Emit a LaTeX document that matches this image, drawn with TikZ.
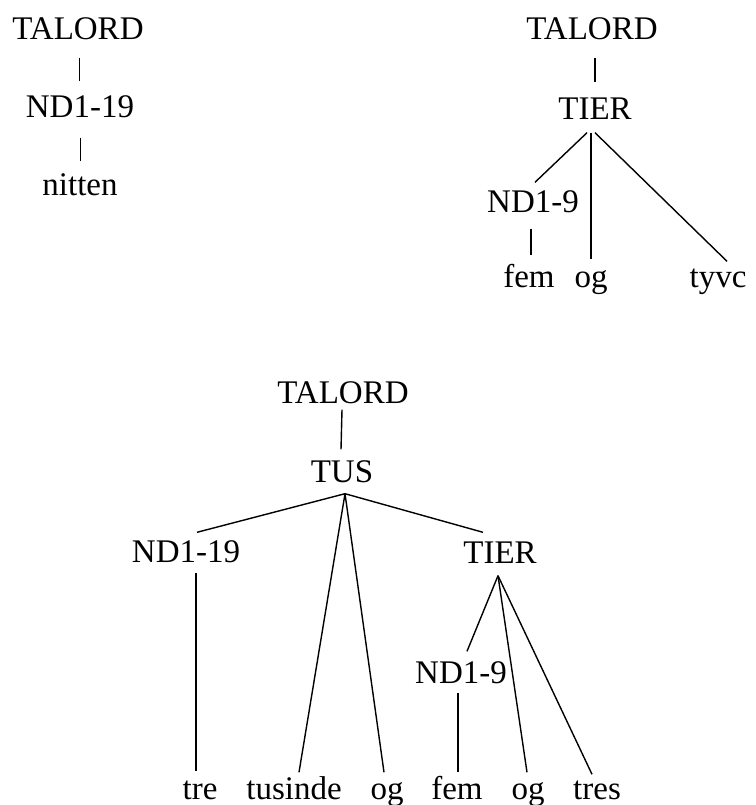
\documentclass[tikz,border=0pt]{standalone}
\usepackage{fontspec}
\setmainfont{Liberation Serif}
\usetikzlibrary{positioning}

\begin{document}
\begin{tikzpicture}[x=1pt,y=-1pt,line width=1.4pt,
  ord/.style={anchor=base,inner sep=0pt,text height=22pt,text depth=0pt,font=\fontsize{33}{40}\selectfont}]
\useasboundingbox (0,0) rectangle (755,805);
% first tree
\node[ord] (TA) at (78,40) {TALORD};
\node[ord] (NA) at (80,118) {ND1-19};
\node[ord] (nit) at (80,195) {nitten};
\draw[line width=1pt] ([xshift=1pt,yshift=-17pt]TA.south) -- ([xshift=-1pt,yshift=14pt]NA.north);
\draw[line width=1pt] ([yshift=-19pt]NA.south) -- ([yshift=11pt]nit.north);
% second tree
\node[ord] (TB) at (592,40) {TALORD};
\node[ord] (TIb) at (595,120) {TIER};
\node[ord] (NDb) at (533,212) {ND1-9};
\node[ord] (femb) at (529,287) {fem};
\node[ord] (ogb) at (591,287) {og};
\node[ord] (tyv) at (718,287) {tyvc};
\draw ([xshift=3pt,yshift=-17pt]TB.south) -- ([yshift=15pt]TIb.north);
\draw ([xshift=-8pt,yshift=-12pt]TIb.south) -- ([xshift=2pt,yshift=7pt]NDb.north);
\draw ([xshift=-4pt,yshift=-12pt]TIb.south) -- ([yshift=5pt]ogb.north);
\draw ([yshift=-12pt]TIb.south) -- ([xshift=9pt,yshift=3pt]tyv.north);
\draw ([xshift=-2pt,yshift=-16pt]NDb.south) -- ([xshift=2pt,yshift=9pt]femb.north);
% third tree
\node[ord] (TC) at (343,403) {TALORD};
\node[ord] (TUS) at (342,482) {TUS};
\node[ord] (NDc) at (186,562) {ND1-19};
\node[ord] (TIc) at (500,563) {TIER};
\node[ord] (NDd) at (461,683) {ND1-9};
\node[ord] (tre) at (200,799) {tre};
\node[ord] (tus) at (294,799) {tusinde};
\node[ord] (ogc) at (387,799) {og};
\node[ord] (femc) at (457,799) {fem};
\node[ord] (ogd) at (528,799) {og};
\node[ord] (tres) at (597,799) {tres};
\draw ([xshift=-1pt,yshift=-6pt]TC.south) -- ([xshift=-1pt,yshift=10pt]TUS.north);
\draw ([xshift=3pt,yshift=-11pt]TUS.south) -- ([xshift=11pt,yshift=7pt]NDc.north);
\draw ([xshift=3pt,yshift=-11pt]TUS.south) -- ([xshift=5pt,yshift=4pt]tus.north);
\draw ([xshift=3pt,yshift=-11pt]TUS.south) -- ([xshift=-3pt,yshift=4pt]ogc.north);
\draw ([xshift=3pt,yshift=-11pt]TUS.south) -- ([xshift=-17pt,yshift=8pt]TIc.north);
\draw ([xshift=10pt,yshift=-10pt]NDc.south) -- ([xshift=-4pt,yshift=5pt]tre.north);
\draw ([xshift=-2pt,yshift=-12pt]TIc.south) -- ([xshift=6pt,yshift=9pt]NDd.north);
\draw ([xshift=-2pt,yshift=-12pt]TIc.south) -- ([xshift=-1pt,yshift=4pt]ogd.north);
\draw ([xshift=-2pt,yshift=-12pt]TIc.south) -- ([xshift=-5pt,yshift=2pt]tres.north);
\draw ([xshift=-3pt,yshift=-9pt]NDd.south) -- ([xshift=1pt,yshift=4pt]femc.north);
\end{tikzpicture}
\end{document}
